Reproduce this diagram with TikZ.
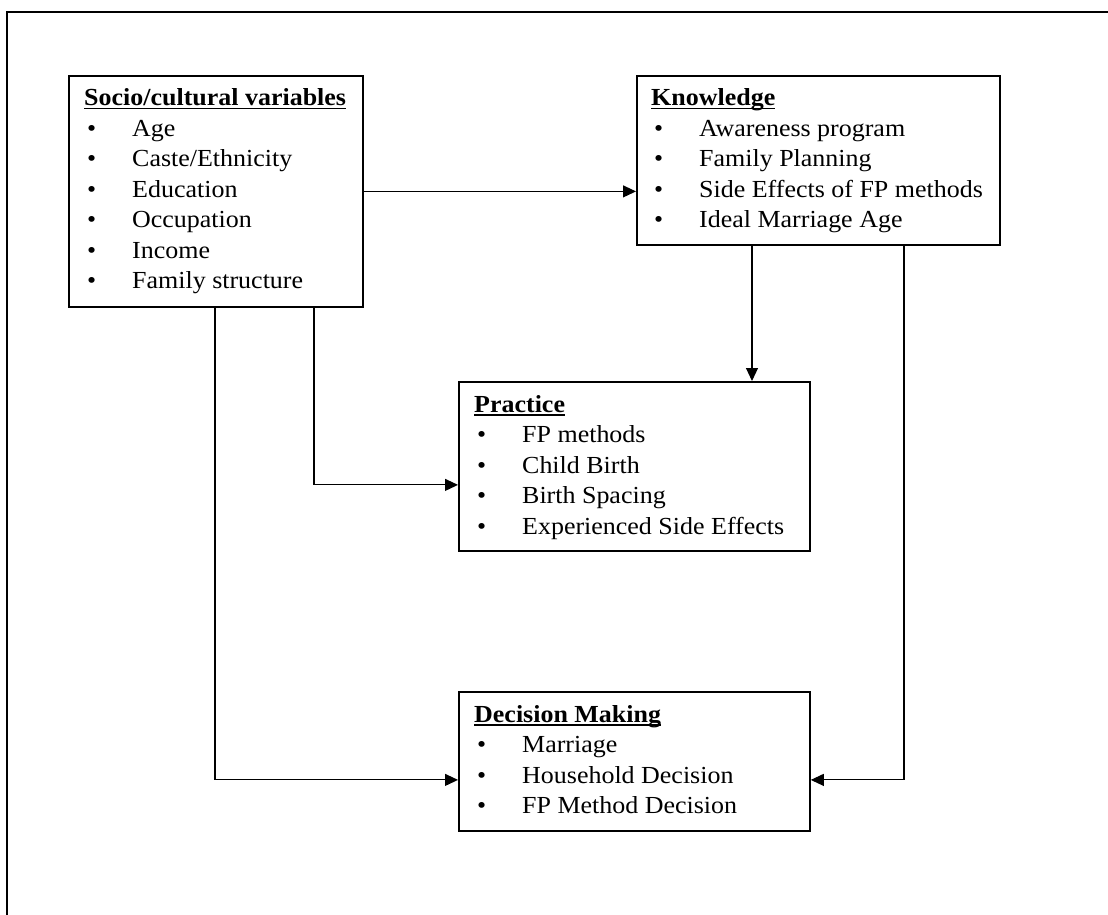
\documentclass[tikz,border=0pt]{standalone}
\usepackage{fontspec}
\setmainfont{Liberation Serif}[FakeStretch=1.06]
\usetikzlibrary{arrows.meta}
\newcommand\hdline[1]{\setbox0\hbox{\textbf{#1}}\hbox{\rlap{\rule[-3.5pt]{\wd0}{1.4pt}}\box0}}
\newcommand\itm[1]{\hbox{\hspace{3pt}\makebox[45pt][l]{\textbullet}#1}}
\tikzset{
  box/.style={draw, line width=1.8pt, anchor=north west, inner sep=0pt},
  content/.style={anchor=base west, inner sep=0pt, font=\fontsize{24.5}{30.5}\selectfont},
  arr/.style={line width=1.1pt, -{Triangle[length=13pt,width=12pt]}},
  frameline/.style={line width=2.4pt}
}
\begin{document}
\begin{tikzpicture}[x=1pt,y=-1pt]
\useasboundingbox (0,0) rectangle (1108,915);
\draw[frameline] (7,915) -- (7,12) -- (1108,12);

\node[box, minimum width=294pt, minimum height=231pt] (soc) at (68,75) {};
\node[box, minimum width=363pt, minimum height=169pt] (kno) at (636,75) {};
\node[box, minimum width=351pt, minimum height=169pt] (pra) at (458,381) {};
\node[box, minimum width=351pt, minimum height=139pt] (dec) at (458,691) {};

\node[content] (socT) at (84,106) {\vtop{\baselineskip=30.5pt
  \hdline{Socio/cultural variables}
  \itm{Age}\itm{Caste/Ethnicity}\itm{Education}\itm{Occupation}\itm{Income}\itm{Family structure}}};
\node[content] (knoT) at (651,106) {\vtop{\baselineskip=30.5pt
  \hdline{Knowledge}
  \itm{Awareness program}\itm{Family Planning}\itm{Side Effects of FP methods}\itm{Ideal Marriage Age}}};
\node[content] (praT) at (474,412) {\vtop{\baselineskip=30.5pt
  \hdline{Practice}
  \itm{FP methods}\itm{Child Birth}\itm{Birth Spacing}\itm{Experienced Side Effects}}};
\node[content] (decT) at (474,722) {\vtop{\baselineskip=30.5pt
  \hdline{Decision Making}
  \itm{Marriage}\itm{Household Decision}\itm{FP Method Decision}}};

\draw[arr] (soc.east) -- (soc.east -| kno.west);
\draw[arr] ([xshift=116pt]kno.south west) -- ([xshift=294pt]pra.north west);
\draw[arr] ([xshift=246pt]soc.south west) |- ([yshift=-18.5pt]pra.west);
\draw[arr] ([xshift=147pt]soc.south west) |- ([yshift=-18.5pt]dec.west);
\draw[arr] ([xshift=268pt]kno.south west) |- ([yshift=-18.5pt]dec.east);
\end{tikzpicture}
\end{document}
